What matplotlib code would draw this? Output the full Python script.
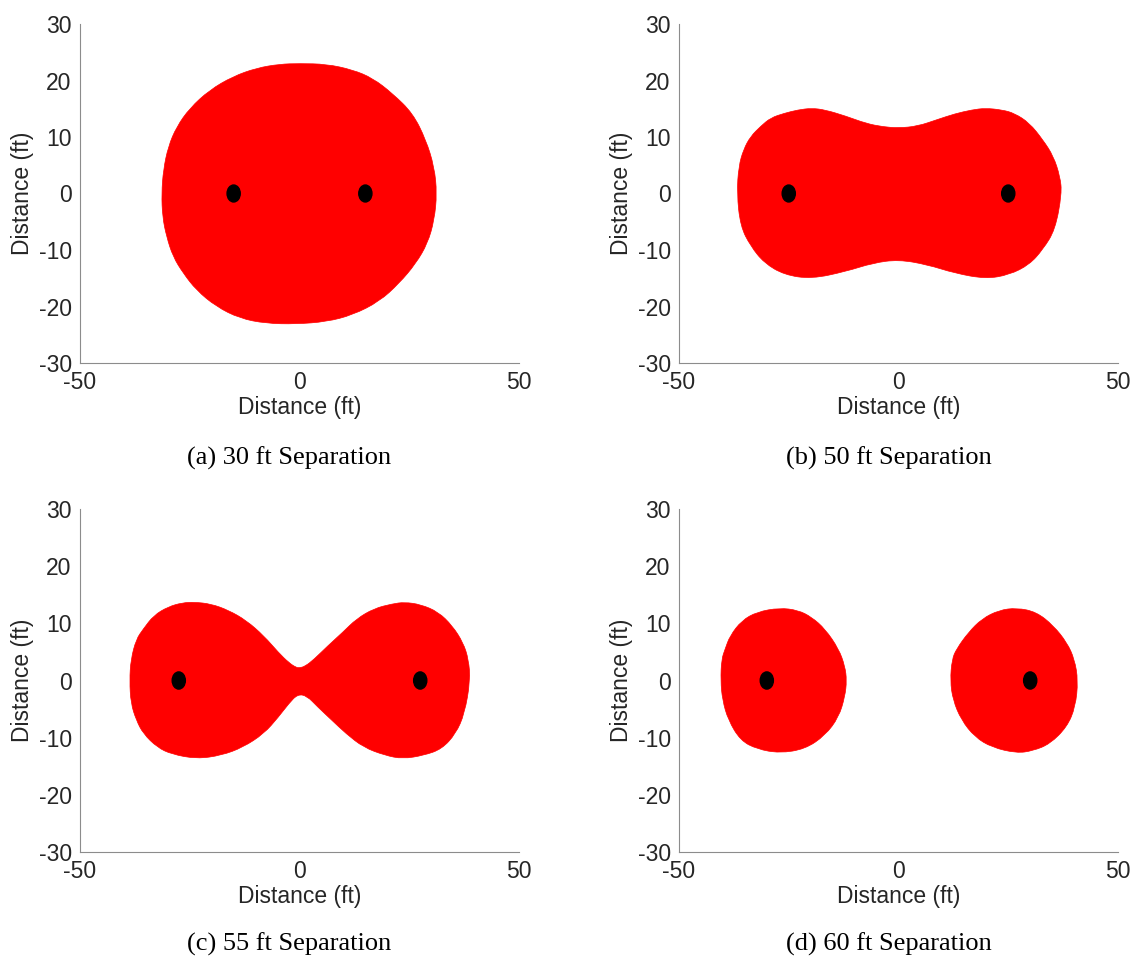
import matplotlib
matplotlib.use("Agg")
import matplotlib.pyplot as plt
from matplotlib.patches import PathPatch, Ellipse
from matplotlib.path import Path

# Coverage boundaries (ft) for each transmitter separation
a_x = [-31.4, -31.0, -29.9, -28.0, -25.0, -20.5, -15.2, -9.8, -4.5, 0.0, 6.1, 12.1, 16.7, 21.2, 25.8, 28.8, 30.7, 31.3,
       30.7, 29.2, 26.5, 22.7, 18.2, 12.1, 6.1, -0.8, -7.6, -13.6, -19.0, -23.5, -26.5, -28.8, -30.3, -31.2]
a_y = [0.0, 4.2, 8.3, 11.8, 15.1, 18.3, 20.7, 22.2, 22.9, 23.0, 22.9, 21.9, 20.4, 17.7, 14.2, 9.5, 4.7, 0.0,
       -4.7, -8.8, -12.4, -15.9, -19.1, -21.5, -22.7, -23.1, -23.0, -22.1, -20.0, -17.1, -14.1, -11.2, -7.6, -4.1]

b_x = [-36.8, -36.4, -35.3, -33.7, -31.4, -29.1, -26.0, -22.9, -19.8, -16.7, -12.0, -7.4, -3.5, 0.0, 4.3, 8.9, 12.8,
       16.7, 19.8, 23.6, 26.4, 29.8, 32.9, 35.3, 36.8, 37.2,
       35.7, 32.9, 29.8, 25.2, 19.8, 12.8, 6.6, 0.0, -5.8, -12.0, -19.8, -26.0, -30.6, -33.7, -36.0]
b_y = [0.0, 4.8, 7.8, 10.1, 11.9, 13.4, 14.2, 14.8, 15.1, 14.8, 13.7, 12.4, 11.8, 11.6, 11.9, 13.1, 14.1,
       14.8, 15.1, 14.8, 14.2, 12.5, 9.5, 6.6, 3.0, 0.0,
       -6.4, -9.9, -12.6, -14.4, -15.1, -14.1, -12.6, -11.7, -12.3, -13.8, -15.1, -14.4, -12.3, -9.3, -5.8]

c_x = [-38.7, -38.4, -37.2, -35.6, -33.2, -29.9, -26.7, -23.9, -20.2, -16.2, -12.1, -8.1, -4.8, -2.4, -0.8, 0.0,
       1.3, 3.3, 6.5, 9.8, 13.0, 17.0, 21.1, 23.9, 27.6, 31.6, 34.8, 37.3, 38.5, 38.9,
       37.6, 35.6, 32.4, 28.3, 23.5, 19.5, 14.6, 10.6, 7.3, 4.1, 1.7, -0.4, -2.4, -4.8, -8.1, -12.9, -17.8,
       -23.4, -29.1, -32.4, -35.6, -37.2, -38.4]
c_y = [0.0, 3.7, 7.2, 9.0, 11.4, 12.9, 13.6, 13.7, 13.4, 12.3, 10.5, 7.8, 4.9, 3.1, 2.3, 2.2,
       2.5, 3.7, 6.1, 8.4, 10.8, 12.6, 13.4, 13.7, 13.3, 12.0, 9.6, 6.6, 3.7, 0.0,
       -5.8, -9.3, -12.0, -13.1, -13.7, -13.1, -11.7, -9.3, -6.9, -4.6, -2.7, -2.4, -4.0, -6.4, -9.3, -11.7, -13.1,
       -13.7, -12.9, -11.7, -9.3, -6.9, -4.0]

d_left_x = [-40.5, -40.3, -39.5, -38.4, -35.7, -32.2, -27.1, -22.9, -19.8, -16.7, -13.6, -12.2, -11.8,
            -12.2, -13.6, -16.7, -21.3, -27.1, -32.2, -36.0, -38.8, -40.1]
d_left_y = [0.0, 3.7, 5.5, 7.8, 10.5, 12.0, 12.7, 12.3, 11.1, 9.0, 5.5, 2.5, 0.0,
            -2.8, -6.4, -9.6, -12.0, -12.7, -12.0, -10.5, -6.9, -3.4]
d_right_x = [11.8, 12.2, 13.2, 15.9, 19.0, 22.9, 26.9, 31.4, 35.3, 38.4, 40.1, 40.9,
             40.3, 38.4, 34.5, 30.6, 26.9, 21.3, 17.4, 14.3, 12.4]
d_right_y = [0.0, 3.7, 5.5, 8.4, 10.8, 12.3, 12.7, 12.0, 9.6, 6.6, 3.7, 0.0,
             -4.6, -8.1, -11.1, -12.3, -12.7, -11.7, -9.9, -6.9, -3.4]

separations = [30, 50, 55, 60]
captions = ["(a) 30 ft Separation", "(b) 50 ft Separation",
            "(c) 55 ft Separation", "(d) 60 ft Separation"]
regions = [[(a_x, a_y)], [(b_x, b_y)], [(c_x, c_y)],
           [(d_left_x, d_left_y), (d_right_x, d_right_y)]]
x_ticks = [-50, 0, 50]
y_ticks = [-30, -20, -10, 0, 10, 20, 30]
dot_size = 3.0  # ft


def smooth_outline(xs, ys):
    """Closed outline rendered with quadratic Bezier segments through edge midpoints."""
    pts = list(zip(xs, ys))
    n = len(pts)
    mids = [((pts[i][0] + pts[(i + 1) % n][0]) / 2, (pts[i][1] + pts[(i + 1) % n][1]) / 2)
            for i in range(n)]
    verts = [mids[-1]]
    codes = [Path.MOVETO]
    for i in range(n):
        verts += [pts[i], mids[i]]
        codes += [Path.CURVE3, Path.CURVE3]
    verts.append(mids[-1])
    codes.append(Path.CLOSEPOLY)
    return Path(verts, codes)


W, H = 1135, 958
fig = plt.figure(figsize=(W / 100, H / 100), dpi=100)

# axes boxes in pixels: left, top, right, bottom
boxes = [(80, 24, 519, 363), (679, 24, 1118, 363),
         (80, 509, 519, 852), (679, 509, 1118, 852)]
caption_y = [458, 458, 944, 944]

spine_col = "#8c8c8c"
text_col = "#262626"
sans = "Liberation Sans"

for i in range(4):
    l, t, r, b = boxes[i]
    ax = fig.add_axes([l / W, 1 - b / H, (r - l) / W, (b - t) / H])
    for xs, ys in regions[i]:
        ax.add_patch(PathPatch(smooth_outline(xs, ys), facecolor="#ff0000",
                               edgecolor="#ff0000", linewidth=0.5))
    half = separations[i] / 2
    for cx in (-half, half):
        ax.add_patch(Ellipse((cx, 0), dot_size, dot_size, facecolor="black", edgecolor="black"))

    ax.set_xlim(-50, 50)
    ax.set_ylim(-30, 30)
    ax.set_xticks(x_ticks)
    ax.set_yticks(y_ticks)
    ax.set_xticklabels([str(v) for v in x_ticks])
    ax.set_yticklabels([str(v) for v in y_ticks])
    ax.tick_params(axis="both", which="major", length=0, labelsize=16.5,
                   labelcolor=text_col, pad=6)
    ax.set_xticks([50], minor=True)
    ax.set_yticks([30], minor=True)
    ax.tick_params(axis="both", which="minor", direction="in", length=4,
                   width=0.8, color=spine_col)
    for lab in ax.get_xticklabels() + ax.get_yticklabels():
        lab.set_fontfamily(sans)
    for side in ("top", "right"):
        ax.spines[side].set_visible(False)
    for side in ("left", "bottom"):
        ax.spines[side].set_color(spine_col)
        ax.spines[side].set_linewidth(0.8)
    ax.set_xlabel("Distance (ft)", fontsize=16.5, family=sans, color=text_col, labelpad=1)
    ax.set_ylabel("Distance (ft)", fontsize=16.5, family=sans, color=text_col, labelpad=3)

    fig.text(((l + r) / 2 - 10) / W, 1 - caption_y[i] / H, captions[i],
             ha="center", va="center", fontsize=19, family="Liberation Serif", color="black")

fig.savefig("out.png", dpi=100)
